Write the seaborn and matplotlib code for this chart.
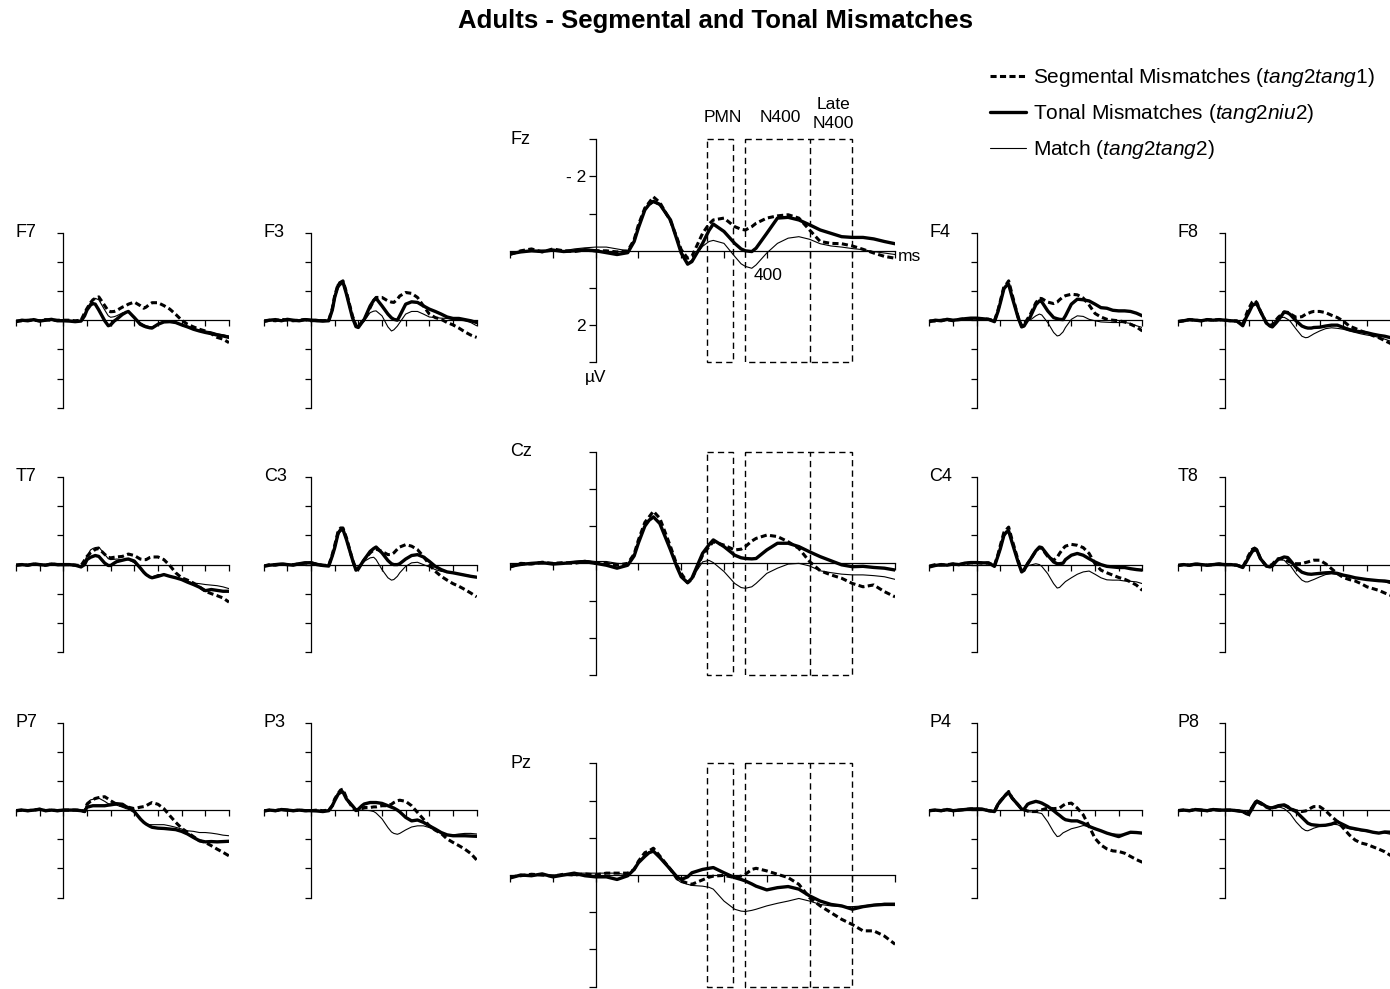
import matplotlib
matplotlib.use("Agg")
import matplotlib.pyplot as plt
from matplotlib.patches import Rectangle
import seaborn as sns

# ---------------- data (µV, negative plotted upward) ----------------
TIMES = [-200, -175, -150, -125, -100, -75, -50, -25, 0,
         25, 50, 75,
         90, 100, 115, 125, 135, 150,
         175, 190, 200, 215, 225, 250, 265, 275,
         300, 325, 340, 350, 365, 375, 400,
         425, 450, 475, 500, 525, 550, 575, 600, 625, 650, 675, 700]

ELECTRODES = ["F7", "F3", "Fz", "F4", "F8",
              "T7", "C3", "Cz", "C4", "T8",
              "P7", "P3", "Pz", "P4", "P8"]
CONDITIONS = ["Segmental Mismatches", "Tonal Mismatches", "Match"]
CONDITION_TAGS = ["tang2tang1", "tang2niu2", "tang2tang2"]
WINDOW_EDGES = [260, 320, 350, 500, 600]
WINDOW_LABELS = ["PMN", "N400", "Late\nN400"]

FZ_SEG = [0.10, 0.00, -0.05, 0.03, -0.05, 0.00, 0.02, -0.02, 0.00,
          0.00, 0.03, 0.00,
          -0.30, -0.70, -1.15, -1.30, -1.45, -1.30,
          -0.80, -0.35, -0.03, 0.20, 0.15, -0.47, -0.72, -0.83,
          -0.88, -0.65, -0.58, -0.56, -0.65, -0.74, -0.88,
          -0.94, -0.97, -0.88, -0.56, -0.25, -0.20, -0.19, -0.13, -0.04, 0.06, 0.15, 0.20]
FZ_TON = [0.08, 0.03, 0.00, 0.02, -0.02, 0.02, 0.00, -0.03, 0.00,
          0.05, 0.10, 0.05,
          -0.25, -0.62, -1.10, -1.25, -1.33, -1.25,
          -0.83, -0.30, 0.06, 0.36, 0.29, -0.20, -0.55, -0.72,
          -0.52, -0.20, -0.05, 0.00, 0.02, -0.07, -0.47,
          -0.88, -0.90, -0.83, -0.70, -0.56, -0.47, -0.38, -0.36, -0.36, -0.32, -0.25, -0.19]
FZ_MAT = [0.05, 0.02, 0.00, -0.02, 0.00, 0.00, -0.05, -0.08, -0.10,
          -0.10, -0.05, 0.00,
          -0.28, -0.62, -1.08, -1.22, -1.30, -1.22,
          -0.80, -0.30, 0.00, 0.33, 0.25, -0.12, -0.25, -0.28,
          -0.20, 0.15, 0.35, 0.42, 0.47, 0.38, 0.06,
          -0.20, -0.34, -0.38, -0.31, -0.19, -0.13, -0.10, -0.06, -0.03, 0.02, 0.06, 0.10]

CZ_SEG = [0.10, 0.00, 0.02, -0.03, 0.00, -0.02, 0.00, -0.05, 0.00,
          0.00, 0.05, 0.00,
          -0.25, -0.63, -1.10, -1.25, -1.40, -1.21,
          -0.45, 0.05, 0.27, 0.52, 0.43, -0.22, -0.45, -0.58,
          -0.49, -0.36, -0.38, -0.45, -0.60, -0.67, -0.76,
          -0.72, -0.58, -0.40, -0.05, 0.20, 0.31, 0.40, 0.54, 0.63, 0.58, 0.76, 0.90]
CZ_TON = [0.08, 0.03, 0.00, -0.02, 0.02, 0.00, -0.03, -0.05, 0.00,
          0.05, 0.13, 0.05,
          -0.20, -0.55, -1.00, -1.16, -1.25, -1.07,
          -0.36, 0.10, 0.36, 0.52, 0.40, -0.27, -0.50, -0.63,
          -0.45, -0.22, -0.15, -0.13, -0.12, -0.13, -0.36,
          -0.54, -0.54, -0.45, -0.31, -0.18, -0.07, 0.04, 0.09, 0.08, 0.11, 0.13, 0.18]
CZ_MAT = [0.05, 0.00, 0.00, 0.02, -0.02, 0.00, -0.05, -0.08, -0.05,
          -0.05, 0.00, 0.02,
          -0.20, -0.54, -1.00, -1.13, -1.22, -1.07,
          -0.36, 0.10, 0.36, 0.49, 0.40, -0.04, -0.08, -0.02,
          0.22, 0.54, 0.65, 0.67, 0.63, 0.54, 0.27,
          0.13, 0.02, 0.00, 0.07, 0.20, 0.25, 0.29, 0.31, 0.31, 0.33, 0.36, 0.43]

PZ_SEG = [0.05, 0.02, -0.02, 0.00, 0.03, -0.02, 0.00, -0.03, 0.00,
          -0.05, -0.05, -0.05,
          -0.15, -0.37, -0.60, -0.65, -0.72, -0.51,
          -0.15, 0.10, 0.16, 0.22, 0.25, 0.13, 0.06, 0.03,
          0.01, 0.07, 0.03, -0.02, -0.15, -0.18, -0.11,
          -0.02, 0.07, 0.25, 0.61, 0.83, 1.01, 1.19, 1.33, 1.50, 1.50, 1.64, 1.86]
PZ_TON = [0.08, 0.00, 0.02, -0.03, 0.05, 0.00, -0.05, 0.02, 0.05,
          0.05, 0.12, 0.02,
          -0.15, -0.33, -0.50, -0.60, -0.64, -0.47,
          -0.15, 0.05, 0.12, 0.05, -0.06, -0.15, -0.18, -0.20,
          -0.06, 0.07, 0.12, 0.16, 0.24, 0.30, 0.40,
          0.34, 0.31, 0.38, 0.56, 0.70, 0.79, 0.83, 0.92, 0.85, 0.81, 0.79, 0.79]
PZ_MAT = [0.05, 0.00, 0.00, 0.02, 0.00, -0.02, -0.05, -0.05, -0.05,
          -0.05, -0.05, 0.00,
          -0.15, -0.33, -0.55, -0.62, -0.66, -0.47,
          -0.13, 0.12, 0.20, 0.25, 0.28, 0.30, 0.33, 0.38,
          0.70, 0.92, 0.97, 0.98, 0.95, 0.92, 0.83,
          0.76, 0.70, 0.63, 0.70, 0.79, 0.83, 0.85, 0.85, 0.83, 0.79, 0.76, 0.76]

F7_SEG = [0.03, 0.02, 0.00, 0.00, 0.02, -0.02, 0.00, 0.00, 0.00,
          0.00, 0.02, 0.00,
          -0.25, -0.40, -0.60, -0.70, -0.75, -0.80,
          -0.50, -0.32, -0.29, -0.30, -0.33, -0.45, -0.50, -0.55,
          -0.62, -0.50, -0.41, -0.45, -0.55, -0.60, -0.60,
          -0.50, -0.38, -0.20, 0.00, 0.14, 0.23, 0.31, 0.37, 0.46, 0.59, 0.65, 0.77]
F7_TON = [0.05, 0.00, 0.02, -0.02, 0.03, 0.00, -0.03, 0.02, 0.02,
          0.03, 0.05, 0.03,
          -0.15, -0.35, -0.52, -0.57, -0.55, -0.35,
          0.02, 0.19, 0.16, 0.03, -0.03, -0.20, -0.27, -0.30,
          -0.09, 0.14, 0.20, 0.23, 0.26, 0.27, 0.14,
          0.06, 0.05, 0.08, 0.16, 0.23, 0.31, 0.37, 0.42, 0.46, 0.51, 0.54, 0.59]
F7_MAT = [0.03, 0.02, 0.00, 0.00, 0.00, 0.02, -0.02, 0.00, -0.02,
          0.00, 0.02, 0.02,
          -0.20, -0.40, -0.60, -0.68, -0.75, -0.70,
          -0.35, -0.15, -0.10, -0.12, -0.15, -0.25, -0.28, -0.28,
          -0.12, 0.08, 0.15, 0.19, 0.22, 0.23, 0.14,
          0.06, 0.05, 0.10, 0.17, 0.23, 0.29, 0.34, 0.37, 0.40, 0.46, 0.50, 0.54]

F3_SEG = [0.05, 0.00, 0.02, -0.03, 0.00, 0.02, 0.00, -0.02, 0.02,
          0.00, 0.02, 0.00,
          -0.40, -0.83, -1.25, -1.30, -1.35, -0.95,
          -0.15, 0.18, 0.23, 0.05, 0.00, -0.43, -0.68, -0.78,
          -0.78, -0.66, -0.62, -0.61, -0.72, -0.83, -0.95,
          -0.92, -0.78, -0.49, -0.21, -0.09, -0.03, 0.08, 0.16, 0.27, 0.40, 0.51, 0.59]
F3_TON = [0.03, 0.00, -0.02, 0.02, -0.03, 0.00, 0.02, -0.02, 0.00,
          0.02, 0.03, 0.02,
          -0.35, -0.78, -1.20, -1.29, -1.31, -0.89,
          -0.09, 0.22, 0.25, 0.08, -0.03, -0.49, -0.68, -0.75,
          -0.49, -0.21, -0.08, -0.03, 0.00, -0.15, -0.55,
          -0.63, -0.61, -0.49, -0.38, -0.30, -0.21, -0.11, -0.06, -0.06, -0.02, 0.02, 0.08]
F3_MAT = [0.03, 0.02, 0.00, 0.00, -0.02, 0.00, 0.00, -0.05, -0.03,
          -0.03, 0.00, 0.02,
          -0.30, -0.75, -1.10, -1.20, -1.25, -0.87,
          -0.09, 0.20, 0.23, 0.08, 0.02, -0.26, -0.31, -0.32,
          -0.15, 0.23, 0.37, 0.33, 0.20, 0.08, -0.21,
          -0.30, -0.30, -0.21, -0.11, -0.09, -0.07, -0.06, -0.02, 0.00, 0.02, 0.08, 0.19]

F4_SEG = [0.02, 0.03, 0.00, -0.02, 0.02, -0.03, -0.05, -0.05, -0.05,
          -0.05, -0.03, 0.02,
          -0.35, -0.66, -1.15, -1.23, -1.35, -0.87,
          -0.11, 0.20, 0.16, -0.05, -0.17, -0.60, -0.75, -0.74,
          -0.62, -0.57, -0.62, -0.70, -0.80, -0.84, -0.89,
          -0.87, -0.76, -0.52, -0.23, -0.11, -0.03, 0.00, 0.02, 0.06, 0.14, 0.23, 0.37]
F4_TON = [0.05, 0.00, 0.02, -0.03, 0.00, -0.02, -0.05, -0.07, -0.07,
          -0.05, -0.03, 0.05,
          -0.30, -0.60, -1.08, -1.18, -1.23, -0.78,
          -0.09, 0.23, 0.20, 0.00, -0.09, -0.53, -0.66, -0.63,
          -0.32, -0.09, -0.05, -0.03, -0.02, -0.15, -0.55,
          -0.72, -0.70, -0.66, -0.55, -0.43, -0.41, -0.34, -0.32, -0.32, -0.30, -0.24, -0.15]
F4_MAT = [0.03, 0.00, 0.00, -0.02, 0.00, -0.02, -0.03, -0.05, -0.05,
          -0.05, -0.02, 0.03,
          -0.28, -0.55, -1.05, -1.14, -1.21, -0.76,
          -0.07, 0.21, 0.16, 0.02, 0.00, -0.15, -0.21, -0.18,
          0.08, 0.42, 0.54, 0.52, 0.40, 0.25, -0.03,
          -0.15, -0.13, -0.03, 0.02, 0.06, 0.07, 0.08, 0.08, 0.08, 0.11, 0.19, 0.25]

F8_SEG = [0.05, 0.02, -0.02, 0.00, 0.02, -0.02, 0.00, -0.02, 0.00,
          0.02, 0.03, 0.15,
          -0.20, -0.40, -0.62, -0.68, -0.60, -0.30,
          0.10, 0.18, 0.15, 0.00, -0.10, -0.28, -0.27, -0.22,
          -0.10, -0.12, -0.20, -0.23, -0.28, -0.30, -0.30,
          -0.26, -0.17, -0.09, 0.03, 0.20, 0.28, 0.37, 0.44, 0.53, 0.60, 0.70, 0.80]
F8_TON = [0.05, 0.02, -0.02, 0.00, 0.02, -0.02, 0.00, -0.02, 0.00,
          0.02, 0.03, 0.19,
          -0.10, -0.25, -0.50, -0.55, -0.55, -0.30,
          0.10, 0.20, 0.23, 0.10, 0.00, -0.28, -0.25, -0.20,
          0.02, 0.20, 0.25, 0.27, 0.27, 0.25, 0.24,
          0.20, 0.17, 0.17, 0.25, 0.32, 0.37, 0.40, 0.43, 0.48, 0.52, 0.55, 0.60]
F8_MAT = [0.03, 0.00, 0.00, 0.02, 0.00, 0.00, -0.02, 0.00, 0.00,
          0.02, 0.02, 0.12,
          -0.15, -0.35, -0.55, -0.58, -0.50, -0.25,
          0.08, 0.17, 0.15, 0.00, -0.08, -0.10, -0.03, 0.03,
          0.30, 0.55, 0.60, 0.59, 0.52, 0.47, 0.37,
          0.29, 0.26, 0.28, 0.31, 0.37, 0.42, 0.47, 0.51, 0.54, 0.59, 0.65, 0.72]

T7_SEG = [0.02, 0.00, 0.02, -0.02, 0.00, 0.02, -0.02, 0.00, 0.00,
          0.00, 0.02, 0.03,
          -0.15, -0.28, -0.40, -0.45, -0.52, -0.55,
          -0.35, -0.25, -0.23, -0.25, -0.26, -0.28, -0.33, -0.36,
          -0.31, -0.19, -0.17, -0.17, -0.24, -0.26, -0.26,
          -0.17, 0.03, 0.28, 0.45, 0.53, 0.63, 0.76, 0.91, 0.99, 1.06, 1.14, 1.28]
T7_TON = [0.02, 0.00, 0.02, -0.02, 0.00, 0.02, -0.02, 0.00, 0.00,
          0.00, 0.02, 0.08,
          0.00, -0.17, -0.25, -0.28, -0.31, -0.28,
          -0.05, 0.03, 0.03, -0.05, -0.10, -0.15, -0.18, -0.19,
          -0.12, 0.11, 0.26, 0.34, 0.42, 0.45, 0.40,
          0.34, 0.40, 0.45, 0.51, 0.60, 0.68, 0.77, 0.89, 0.85, 0.88, 0.91, 0.91]
T7_MAT = [0.02, 0.00, 0.00, 0.00, -0.02, 0.00, 0.00, -0.02, 0.00,
          0.00, 0.00, 0.05,
          -0.10, -0.30, -0.50, -0.55, -0.58, -0.60,
          -0.35, -0.20, -0.17, -0.18, -0.19, -0.17, -0.17, -0.17,
          -0.06, 0.15, 0.30, 0.37, 0.41, 0.42, 0.34,
          0.34, 0.40, 0.45, 0.51, 0.57, 0.63, 0.65, 0.68, 0.70, 0.72, 0.76, 0.82]

C3_SEG = [0.05, 0.00, 0.02, -0.02, 0.00, 0.00, -0.03, -0.05, -0.05,
          0.00, 0.02, 0.03,
          -0.35, -0.65, -1.15, -1.25, -1.25, -0.91,
          -0.17, 0.17, 0.11, -0.05, -0.17, -0.40, -0.50, -0.53,
          -0.45, -0.34, -0.35, -0.40, -0.53, -0.60, -0.68,
          -0.63, -0.51, -0.28, 0.00, 0.23, 0.40, 0.53, 0.65, 0.74, 0.85, 0.97, 1.10]
C3_TON = [0.06, 0.02, 0.00, -0.02, 0.00, 0.02, -0.03, -0.06, -0.06,
          0.00, 0.03, 0.05,
          -0.30, -0.57, -1.08, -1.19, -1.20, -0.85,
          -0.17, 0.19, 0.15, -0.05, -0.17, -0.45, -0.55, -0.60,
          -0.40, -0.14, -0.03, 0.00, 0.00, -0.03, -0.19,
          -0.31, -0.34, -0.26, -0.11, 0.06, 0.17, 0.25, 0.28, 0.32, 0.36, 0.40, 0.43]
C3_MAT = [0.05, 0.00, 0.00, 0.00, -0.02, 0.00, -0.05, -0.08, -0.10,
          -0.05, 0.00, 0.03,
          -0.25, -0.51, -1.00, -1.14, -1.15, -0.82,
          -0.15, 0.17, 0.11, -0.05, -0.11, -0.23, -0.25, -0.17,
          0.17, 0.45, 0.53, 0.51, 0.40, 0.28, 0.06,
          -0.06, -0.08, 0.00, 0.08, 0.17, 0.23, 0.26, 0.28, 0.32, 0.34, 0.38, 0.42]

C4_SEG = [0.05, 0.00, 0.02, 0.00, -0.02, 0.00, -0.03, -0.06, -0.06,
          -0.05, -0.05, 0.03,
          -0.35, -0.66, -1.10, -1.19, -1.28, -0.83,
          -0.15, 0.22, 0.17, -0.03, -0.15, -0.47, -0.58, -0.55,
          -0.28, -0.15, -0.25, -0.38, -0.55, -0.63, -0.69,
          -0.66, -0.58, -0.38, -0.03, 0.19, 0.28, 0.36, 0.44, 0.50, 0.59, 0.70, 0.88]
C4_TON = [0.08, 0.03, 0.00, 0.02, -0.02, 0.00, -0.05, -0.07, -0.07,
          -0.06, -0.06, 0.06,
          -0.30, -0.55, -1.00, -1.11, -1.15, -0.74,
          -0.09, 0.25, 0.19, -0.03, -0.15, -0.47, -0.60, -0.58,
          -0.32, -0.09, -0.03, -0.03, -0.05, -0.17, -0.32,
          -0.38, -0.32, -0.20, -0.09, 0.00, 0.06, 0.08, 0.10, 0.10, 0.14, 0.17, 0.19]
C4_MAT = [0.05, 0.02, 0.00, 0.00, -0.02, 0.00, -0.05, -0.07, -0.07,
          -0.06, -0.05, 0.05,
          -0.25, -0.49, -0.95, -1.06, -1.11, -0.72,
          -0.09, 0.25, 0.19, 0.05, 0.02, -0.03, 0.00, 0.06,
          0.31, 0.65, 0.80, 0.78, 0.66, 0.58, 0.45,
          0.33, 0.25, 0.22, 0.33, 0.45, 0.52, 0.53, 0.53, 0.56, 0.57, 0.59, 0.65]

T8_SEG = [0.03, 0.00, 0.02, -0.02, 0.00, 0.02, 0.00, -0.02, 0.00,
          0.00, 0.02, 0.08,
          -0.15, -0.32, -0.52, -0.55, -0.50, -0.20,
          0.05, 0.03, -0.01, -0.15, -0.20, -0.20, -0.12, -0.09,
          -0.03, -0.03, -0.07, -0.09, -0.13, -0.15, -0.15,
          -0.03, 0.14, 0.31, 0.44, 0.51, 0.56, 0.65, 0.76, 0.82, 0.88, 0.97, 1.05]
T8_TON = [0.03, 0.00, 0.02, -0.02, 0.00, 0.02, 0.00, -0.02, 0.00,
          0.00, 0.02, 0.10,
          -0.10, -0.25, -0.45, -0.50, -0.48, -0.20,
          0.05, 0.08, 0.05, -0.10, -0.18, -0.26, -0.24, -0.15,
          0.10, 0.26, 0.30, 0.32, 0.33, 0.32, 0.30,
          0.28, 0.27, 0.30, 0.36, 0.40, 0.45, 0.48, 0.51, 0.53, 0.55, 0.56, 0.59]
T8_MAT = [0.02, 0.00, 0.00, 0.00, -0.02, 0.00, 0.00, -0.02, 0.00,
          0.00, 0.00, 0.08,
          -0.15, -0.30, -0.55, -0.60, -0.55, -0.25,
          0.05, 0.05, 0.00, -0.12, -0.17, -0.15, -0.02, 0.02,
          0.31, 0.53, 0.59, 0.59, 0.54, 0.51, 0.42,
          0.34, 0.31, 0.33, 0.36, 0.42, 0.44, 0.48, 0.51, 0.53, 0.56, 0.59, 0.65]

P7_SEG = [0.02, 0.00, 0.02, 0.00, -0.03, 0.02, 0.00, 0.02, 0.00,
          0.00, 0.00, 0.00,
          0.05, -0.20, -0.30, -0.35, -0.40, -0.43,
          -0.46, -0.38, -0.32, -0.25, -0.20, -0.15, -0.12, -0.10,
          -0.05, -0.10, -0.12, -0.15, -0.22, -0.26, -0.20,
          -0.05, 0.19, 0.42, 0.62, 0.77, 0.91, 1.05, 1.11, 1.22, 1.34, 1.45, 1.57]
P7_TON = [0.02, 0.00, 0.02, 0.00, -0.03, 0.02, 0.00, 0.02, 0.00,
          0.00, 0.00, 0.02,
          0.05, -0.10, -0.13, -0.15, -0.15, -0.15,
          -0.15, -0.17, -0.18, -0.20, -0.22, -0.20, -0.12, -0.08,
          0.05, 0.30, 0.42, 0.48, 0.55, 0.59, 0.62,
          0.63, 0.65, 0.67, 0.73, 0.82, 0.94, 1.05, 1.09, 1.08, 1.09, 1.08, 1.07]
P7_MAT = [0.02, 0.00, 0.00, 0.02, 0.00, 0.00, -0.02, 0.00, 0.00,
          0.00, 0.00, 0.02,
          0.03, -0.25, -0.35, -0.37, -0.38, -0.41,
          -0.30, -0.22, -0.20, -0.18, -0.17, -0.10, -0.05, -0.03,
          0.05, 0.25, 0.42, 0.48, 0.50, 0.50, 0.50,
          0.50, 0.54, 0.59, 0.65, 0.71, 0.73, 0.77, 0.77, 0.79, 0.82, 0.86, 0.88]

P3_SEG = [0.03, 0.00, 0.02, -0.02, 0.00, 0.02, 0.00, 0.02, 0.02,
          0.00, 0.02, 0.00,
          -0.15, -0.38, -0.58, -0.69, -0.72, -0.41,
          -0.09, 0.02, 0.00, -0.05, -0.09, -0.09, -0.11, -0.11,
          -0.15, -0.15, -0.20, -0.26, -0.32, -0.34, -0.30,
          -0.15, 0.08, 0.31, 0.54, 0.69, 0.80, 0.99, 1.11, 1.22, 1.34, 1.49, 1.71]
P3_TON = [0.03, 0.00, 0.02, -0.02, 0.00, 0.02, 0.00, 0.02, 0.02,
          0.03, 0.05, 0.02,
          -0.15, -0.32, -0.55, -0.61, -0.62, -0.38,
          -0.15, 0.00, -0.03, -0.15, -0.21, -0.26, -0.26, -0.26,
          -0.23, -0.15, -0.10, -0.07, 0.00, 0.06, 0.25,
          0.37, 0.34, 0.42, 0.54, 0.65, 0.77, 0.85, 0.88, 0.88, 0.88, 0.89, 0.90]
P3_MAT = [0.02, 0.00, 0.02, 0.00, -0.02, 0.00, 0.00, 0.02, 0.00,
          0.00, 0.02, 0.00,
          -0.15, -0.30, -0.55, -0.61, -0.60, -0.41,
          -0.11, 0.00, 0.00, 0.00, 0.00, 0.02, 0.05, 0.10,
          0.30, 0.60, 0.75, 0.80, 0.83, 0.80, 0.68,
          0.58, 0.54, 0.54, 0.60, 0.70, 0.80, 0.85, 0.85, 0.82, 0.80, 0.80, 0.82]

P4_SEG = [0.02, 0.00, 0.02, -0.02, 0.02, 0.00, -0.02, -0.04, -0.04,
          -0.03, 0.02, 0.05,
          -0.20, -0.32, -0.45, -0.53, -0.64, -0.41,
          -0.18, -0.05, -0.01, 0.03, 0.05, 0.05, 0.00, -0.01,
          -0.07, -0.05, -0.06, -0.07, -0.16, -0.21, -0.24,
          -0.07, 0.16, 0.56, 0.97, 1.20, 1.33, 1.40, 1.42, 1.48, 1.59, 1.70, 1.79]
P4_TON = [0.02, 0.00, 0.02, -0.02, 0.02, 0.00, -0.02, -0.04, -0.04,
          -0.03, 0.02, 0.05,
          -0.20, -0.30, -0.45, -0.55, -0.60, -0.41,
          -0.18, -0.03, -0.03, -0.20, -0.24, -0.30, -0.27, -0.24,
          -0.13, 0.02, 0.12, 0.18, 0.28, 0.33, 0.37,
          0.37, 0.45, 0.56, 0.64, 0.71, 0.79, 0.85, 0.91, 0.83, 0.76, 0.77, 0.79]
P4_MAT = [0.02, 0.00, 0.00, 0.02, 0.00, 0.00, -0.02, -0.03, -0.03,
          -0.03, 0.02, 0.05,
          -0.15, -0.30, -0.48, -0.53, -0.58, -0.39,
          -0.16, 0.00, 0.02, 0.06, 0.06, 0.08, 0.10, 0.12,
          0.40, 0.75, 0.91, 0.89, 0.78, 0.74, 0.64,
          0.59, 0.53, 0.56, 0.62, 0.72, 0.79, 0.82, 0.83, 0.83, 0.79, 0.78, 0.79]

P8_SEG = [0.02, 0.00, 0.02, -0.02, 0.00, 0.02, -0.02, 0.00, 0.00,
          0.00, 0.02, 0.05,
          0.10, 0.08, -0.10, -0.22, -0.28, -0.22,
          -0.10, -0.05, -0.07, -0.10, -0.13, -0.16, -0.10, -0.05,
          0.02, 0.05, 0.03, 0.00, -0.08, -0.12, -0.12,
          0.02, 0.22, 0.39, 0.62, 0.85, 1.03, 1.13, 1.18, 1.26, 1.34, 1.43, 1.56]
P8_TON = [0.02, 0.00, 0.02, -0.02, 0.00, 0.02, -0.02, 0.00, 0.00,
          0.00, 0.02, 0.05,
          0.12, 0.15, -0.05, -0.20, -0.30, -0.25,
          -0.12, -0.08, -0.08, -0.12, -0.15, -0.18, -0.12, -0.05,
          0.05, 0.25, 0.37, 0.45, 0.50, 0.51, 0.53,
          0.52, 0.48, 0.40, 0.50, 0.60, 0.64, 0.68, 0.71, 0.76, 0.79, 0.75, 0.76]
P8_MAT = [0.02, 0.00, 0.00, 0.00, -0.02, 0.00, 0.00, -0.02, 0.00,
          0.00, 0.00, 0.05,
          0.08, 0.05, -0.15, -0.30, -0.35, -0.28,
          -0.15, -0.10, -0.10, -0.12, -0.12, -0.05, 0.05, 0.12,
          0.40, 0.62, 0.70, 0.71, 0.66, 0.62, 0.56,
          0.53, 0.48, 0.50, 0.59, 0.64, 0.68, 0.71, 0.74, 0.76, 0.77, 0.79, 0.83]

SERIES = {
    "F7": (F7_SEG, F7_TON, F7_MAT), "F3": (F3_SEG, F3_TON, F3_MAT),
    "Fz": (FZ_SEG, FZ_TON, FZ_MAT), "F4": (F4_SEG, F4_TON, F4_MAT),
    "F8": (F8_SEG, F8_TON, F8_MAT),
    "T7": (T7_SEG, T7_TON, T7_MAT), "C3": (C3_SEG, C3_TON, C3_MAT),
    "Cz": (CZ_SEG, CZ_TON, CZ_MAT), "C4": (C4_SEG, C4_TON, C4_MAT),
    "T8": (T8_SEG, T8_TON, T8_MAT),
    "P7": (P7_SEG, P7_TON, P7_MAT), "P3": (P3_SEG, P3_TON, P3_MAT),
    "Pz": (PZ_SEG, PZ_TON, PZ_MAT), "P4": (P4_SEG, P4_TON, P4_MAT),
    "P8": (P8_SEG, P8_TON, P8_MAT),
}

# ---------------- style / layout ----------------
sns.set_style("white")
plt.rcParams["font.family"] = ["Liberation Sans", "DejaVu Sans"]
plt.rcParams["mathtext.fontset"] = "custom"
plt.rcParams["mathtext.rm"] = "Liberation Sans"
plt.rcParams["mathtext.it"] = "Liberation Sans:italic"
for key in ("text.color", "axes.labelcolor", "xtick.color", "ytick.color",
            "axes.edgecolor"):
    plt.rcParams[key] = "black"

W, H = 1390, 989
fig = plt.figure(figsize=(W / 100, H / 100), dpi=100)

SMALL_COLS = [63.3, 311.0, 976.7, 1225.0]            # pixel x of the 0 ms axis
SMALL_ROWS = [(232.7, 407.7), (476.7, 652.5), (722.7, 897.5)]
BIG_AXIS_X = 595.7
BIG_ROWS = [(139.3, 362.3), (451.7, 675.0), (763.3, 986.7)]
BOX_DASH = (0, (4.5, 3.0))


def px_axes(left, top, width, height):
    return fig.add_axes([left / W, 1 - (top + height) / H, width / W, height / H])


def setup(ax, name, big):
    ax.set_xlim(-200, 700)
    ax.set_ylim(3, -3)  # negative up
    ax.patch.set_visible(False)
    for s in ("top", "right"):
        ax.spines[s].set_visible(False)
    ax.spines["left"].set_position(("data", 0))
    ax.spines["bottom"].set_position(("data", 0))
    for s in ("left", "bottom"):
        ax.spines[s].set_color("black")
        ax.spines[s].set_linewidth(0.9)
    ax.set_xticks(range(-200, 701, 100))
    ax.set_yticks(range(-3, 4))
    ax.set_xticklabels([])
    ax.set_yticklabels([])
    ax.tick_params(axis="x", direction="out", length=5 if big else 4, width=0.9,
                   color="black", bottom=True)
    ax.tick_params(axis="y", direction="out", length=5 if big else 4, width=0.9,
                   color="black", left=True, labelsize=12.5, pad=2)
    ax.set_xlabel("")
    ax.set_ylabel("")
    ax.text(0, 1, name, transform=ax.transAxes, ha="left", va="center",
            fontsize=13)


def draw(ax, seg, ton, mat):
    handles = []
    for vals, lw, ls in ((mat, 0.8, "-"), (ton, 2.4, "-"), (seg, 2.2, (0, (2.0, 1.1)))):
        sns.lineplot(x=TIMES, y=vals, ax=ax, color="black", linewidth=lw,
                     linestyle=ls, estimator=None)
        handles.append(ax.lines[-1])
    mat_h, ton_h, seg_h = handles
    return seg_h, ton_h, mat_h


def windows(ax):
    e = WINDOW_EDGES
    for a, b in ((e[0], e[1]), (e[2], e[4])):
        ax.add_patch(Rectangle((a, -3), b - a, 6, fill=False, edgecolor="black",
                               linewidth=1.0, linestyle=BOX_DASH, clip_on=False))
    ax.axvline(e[3], color="black", linewidth=1.0, linestyle=BOX_DASH,
               clip_on=False)


legend_handles = None
for r, row_names in enumerate([ELECTRODES[0:5], ELECTRODES[5:10], ELECTRODES[10:15]]):
    top, bottom = SMALL_ROWS[r]
    for c, name in enumerate([row_names[0], row_names[1], row_names[3], row_names[4]]):
        x0 = SMALL_COLS[c]
        ax = px_axes(x0 - 47.33, top, 213.0, bottom - top)
        setup(ax, name, False)
        draw(ax, *SERIES[name])
    # big middle panel
    name = row_names[2]
    btop, bbot = BIG_ROWS[r]
    ax = px_axes(BIG_AXIS_X - 85.6, btop, 385.0, bbot - btop)
    setup(ax, name, True)
    windows(ax)
    h = draw(ax, *SERIES[name])
    if name == "Fz":
        legend_handles = h
        ax.set_yticklabels(["", "- 2", "", "", "", "2", ""])
        ax.annotate("400", xy=(400, 0), xytext=(1, -18), textcoords="offset points",
                    ha="center", va="center", fontsize=12.5)
        ax.annotate("ms", xy=(700, 0), xytext=(2, -4), textcoords="offset points",
                    ha="left", va="center", fontsize=12.5)
        ax.annotate("µV", xy=(0, 3), xytext=(0, -11), textcoords="offset points",
                    ha="center", va="center", fontsize=12.5)
        centers = [(WINDOW_EDGES[0] + WINDOW_EDGES[1]) / 2,
                   (WINDOW_EDGES[2] + WINDOW_EDGES[3]) / 2,
                   (WINDOW_EDGES[3] + WINDOW_EDGES[4]) / 2]
        for cx, lab in zip(centers, WINDOW_LABELS):
            off = 18 if "\n" in lab else 16
            ax.annotate(lab, xy=(cx, -3), xytext=(2, off),
                        textcoords="offset points", ha="center", va="center",
                        fontsize=12.5, linespacing=1.35)

fig.text(716 / W, 1 - 21 / H, "Adults - Segmental and Tonal Mismatches",
         ha="center", va="center", fontsize=18.5, fontweight="bold")

labels = [f"{c} $\\mathit{{({t})}}$" for c, t in zip(CONDITIONS, CONDITION_TAGS)]
fig.legend(legend_handles, labels, loc="upper left",
           bbox_to_anchor=(990 / W, 1 - 66 / H), frameon=False, fontsize=15,
           handlelength=1.75, handletextpad=0.3, labelspacing=0.62,
           borderpad=0, borderaxespad=0)

fig.savefig("out.png", dpi=100)
